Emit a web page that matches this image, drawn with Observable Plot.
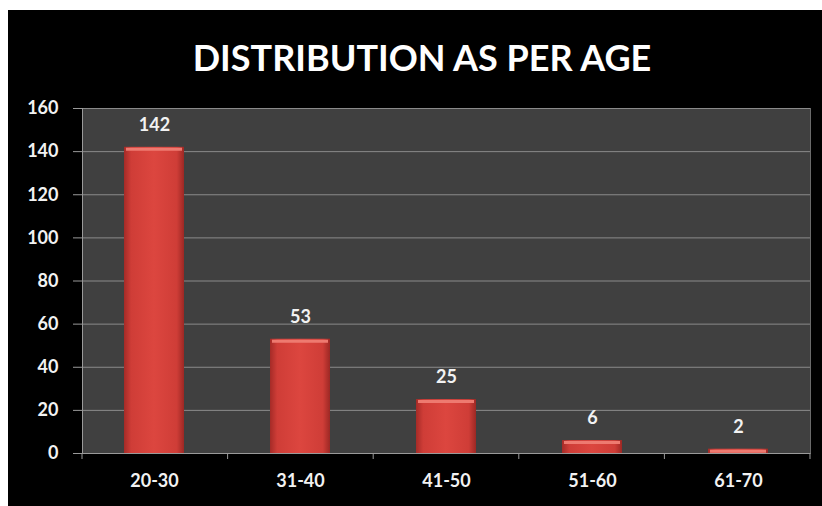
<!DOCTYPE html>
<html>
<head>
<meta charset="utf-8">
<script src="https://cdn.jsdelivr.net/npm/d3@7"></script>
<script src="https://cdn.jsdelivr.net/npm/@observablehq/plot@0.6"></script>
<style>
  html, body { margin: 0; padding: 0; background: #fff; }
  body { width: 822px; height: 506px; overflow: hidden; position: relative; }
  #frame { position: absolute; left: 8px; top: 10px; width: 814px; height: 496px; background: #000; }
  #title { position: absolute; left: 14px; right: 0; top: 26px; text-align: center;
           font-family: Lato, "Open Sans", sans-serif; font-weight: 700; font-size: 36px;
           color: #fff; line-height: 42px; }
  #chart { position: absolute; left: 0; top: 85px; }
  #chart svg text { font-weight: 700; }
</style>
</head>
<body>
<svg width="0" height="0" style="position:absolute">
  <defs>
    <linearGradient id="barGrad" x1="0" x2="1" y1="0" y2="0">
      <stop offset="0%" stop-color="#a52b27"/>
      <stop offset="12%" stop-color="#cf3d37"/>
      <stop offset="50%" stop-color="#dc463f"/>
      <stop offset="88%" stop-color="#cf3d37"/>
      <stop offset="100%" stop-color="#9c2824"/>
    </linearGradient>
  </defs>
</svg>
<div id="frame">
  <div id="title">DISTRIBUTION AS PER AGE</div>
  <div id="chart"></div>
</div>
<script>
const categories = ["20-30", "31-40", "41-50", "51-60", "61-70"];
const counts = [142, 53, 25, 6, 2];
const yTicks = [0, 20, 40, 60, 80, 100, 120, 140, 160];

const data = categories.map((c, i) => ({age: c, count: counts[i]}));

function boundaryTicks() {
  return (index, scales, values, dimensions) => {
    const {width, height, marginLeft, marginRight, marginBottom} = dimensions;
    const y0 = height - marginBottom;
    const cell = (width - marginLeft - marginRight) / categories.length;
    const pos = d3.range(categories.length + 1).map(i => marginLeft + i * cell);
    const g = d3.create("svg:g");
    g.selectAll("line").data(pos).join("line")
      .attr("x1", d => d).attr("x2", d => d)
      .attr("y1", y0).attr("y2", y0 + 6)
      .attr("stroke", "#9a9a9a").attr("stroke-width", 1);
    return g.node();
  };
}

const chart = Plot.plot({
  width: 814,
  height: 411,
  marginTop: 13,
  marginBottom: 53,
  marginLeft: 74,
  marginRight: 12,
  style: {background: "transparent", color: "#f2f2f2", fontFamily: "Lato, 'Open Sans', sans-serif", fontSize: "17px"},
  x: {domain: categories, paddingInner: 0.59, paddingOuter: 0.285, label: null},
  y: {domain: [0, 160], label: null},
  marks: [
    Plot.frame({fill: "#404040", stroke: null}),
    Plot.ruleY(yTicks.slice(1), {stroke: "#8a8a8a", strokeWidth: 1, strokeOpacity: 1}),
    Plot.frame({anchor: "left", stroke: "#9a9a9a"}),
    Plot.frame({anchor: "right", stroke: "#6a6a6a"}),
    Plot.barY(data, {x: "age", y: "count", fill: "url(#barGrad)"}),
    Plot.tickY(data, {x: "age", y: "count", stroke: "#ee7a70", strokeWidth: 3, dy: 2, inset: 2}),
    Plot.ruleY([0], {stroke: "#9a9a9a"}),
    boundaryTicks(),
    Plot.text(data, {x: "age", y: "count", text: d => String(d.count), dy: -22, fill: "#f2f2f2", fontSize: 18}),
    Plot.axisY({ticks: yTicks, tickSize: 9, tickPadding: 15, stroke: "#9a9a9a", fill: "#f2f2f2", fontSize: 18}),
    Plot.axisX({tickSize: 0, tickPadding: 21, fill: "#f2f2f2", fontSize: 18})
  ]
});
document.getElementById("chart").appendChild(chart);
</script>
</body>
</html>
